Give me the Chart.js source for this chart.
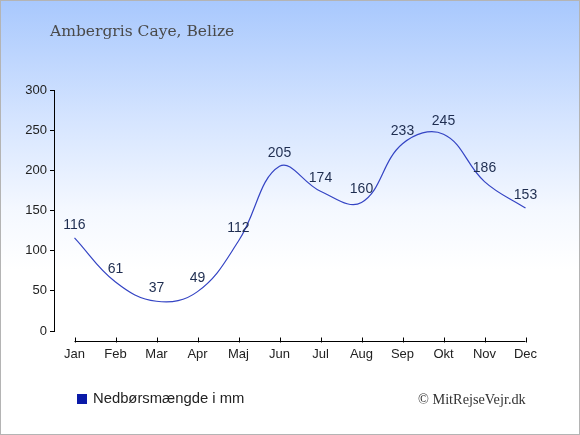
<!DOCTYPE html>
<html>
<head>
<meta charset="utf-8">
<script src="https://cdn.jsdelivr.net/npm/chart.js@4"></script>
<style>
  body { margin: 0; }
  #wrap {
    position: relative; width: 580px; height: 435px; overflow: hidden;
    background: linear-gradient(#a8c8fd 0%, #d6e5ff 28%, #f4f8ff 48%, #ffffff 62%, #ffffff 100%);
  }
  #frame { position: absolute; left: 0; top: 0; width: 578px; height: 433px; border: 1px solid #b4b4b4; pointer-events: none; }
  #chart { position: absolute; left: 0; top: 0; }
  .title { position: absolute; left: 50px; top: 22px; font: 15.5px "DejaVu Serif", serif; color: #4a4a4a; }
  .legend { position: absolute; left: 77px; top: 390px; font: 14.8px "Liberation Sans", Arial, sans-serif; color: #222; }
  .legend i { display: inline-block; width: 10px; height: 10px; background: #0a1aa8; margin-right: 6px; vertical-align: -1px; }
  .copy { position: absolute; left: 418px; top: 391px; font: 14.3px "Liberation Serif", serif; color: #333; }
</style>
</head>
<body>
<div id="wrap">
  <canvas id="chart" width="580" height="435"></canvas>
  <div class="title">Ambergris Caye, Belize</div>
  <div class="legend"><i></i>Nedbørsmængde i mm</div>
  <div class="copy">© MitRejseVejr.dk</div>
  <div id="frame"></div>
</div>
<script>
// Chart data
const months = ['Jan', 'Feb', 'Mar', 'Apr', 'Maj', 'Jun', 'Jul', 'Aug', 'Sep', 'Okt', 'Nov', 'Dec'];
const rainfall = [116, 61, 37, 49, 112, 205, 174, 160, 233, 245, 186, 153];
const yTicks = [0, 50, 100, 150, 200, 250, 300];

// Value labels above each point
const valueLabels = {
    id: 'valueLabels',
    afterDatasetsDraw(chart) {
        const ctx = chart.ctx;
        const meta = chart.getDatasetMeta(0);
        ctx.save();
        ctx.font = '14px "Liberation Sans", Arial, sans-serif';
        ctx.fillStyle = '#1e2d50';
        ctx.textAlign = 'center';
        ctx.textBaseline = 'middle';
        meta.data.forEach((pt, i) => {
            ctx.fillText(rainfall[i], pt.x, pt.y - 13);
        });
        ctx.restore();
    }
};

// Detached x axis line with small ticks, from first to last month
const xAxisLine = {
    id: 'xAxisLine',
    afterDraw(chart) {
        const ctx = chart.ctx;
        const x = chart.scales.x;
        const y = chart.chartArea.bottom + 10.5;
        const x0 = x.getPixelForValue(0);
        const x1 = x.getPixelForValue(months.length - 1);
        ctx.save();
        ctx.strokeStyle = '#000';
        ctx.lineWidth = 1;
        ctx.beginPath();
        ctx.moveTo(x0, y);
        ctx.lineTo(x1, y);
        months.forEach((m, i) => {
            const px = Math.round(x.getPixelForValue(i)) + 0.5;
            ctx.moveTo(px, y - 4);
            ctx.lineTo(px, y + 1);
        });
        ctx.stroke();
        ctx.restore();
    }
};

const ctx = document.getElementById('chart').getContext('2d');
new Chart(ctx, {
    type: 'line',
    data: {
        labels: months,
        datasets: [{
            label: 'Nedbørsmængde i mm',
            data: rainfall,
            borderColor: '#3444c4',
            borderWidth: 1.2,
            pointRadius: 0,
            fill: false,
            tension: 0.4
        }]
    },
    options: {
        responsive: false,
        animation: false,
        layout: { padding: { top: 90, right: 34, bottom: 0, left: 0 } },
        plugins: { legend: { display: false }, tooltip: { enabled: false } },
        scales: {
            x: {
                offset: true,
                grid: { display: false },
                border: { display: false },
                ticks: { color: '#222', padding: 8, maxRotation: 0, font: { family: '"Liberation Sans", Arial, sans-serif', size: 13 } },
                afterFit(scale) { scale.height = 104; }
            },
            y: {
                min: 0,
                max: 300,
                afterBuildTicks(scale) { scale.ticks = yTicks.map(v => ({ value: v })); },
                grid: { drawOnChartArea: false, drawTicks: true, tickLength: 4, color: '#000' },
                border: { display: true, color: '#000' },
                ticks: { color: '#222', padding: 3, font: { family: '"Liberation Sans", Arial, sans-serif', size: 13 } },
                afterFit(scale) { scale.width = 54; }
            }
        }
    },
    plugins: [valueLabels, xAxisLine]
});
</script>
</body>
</html>
